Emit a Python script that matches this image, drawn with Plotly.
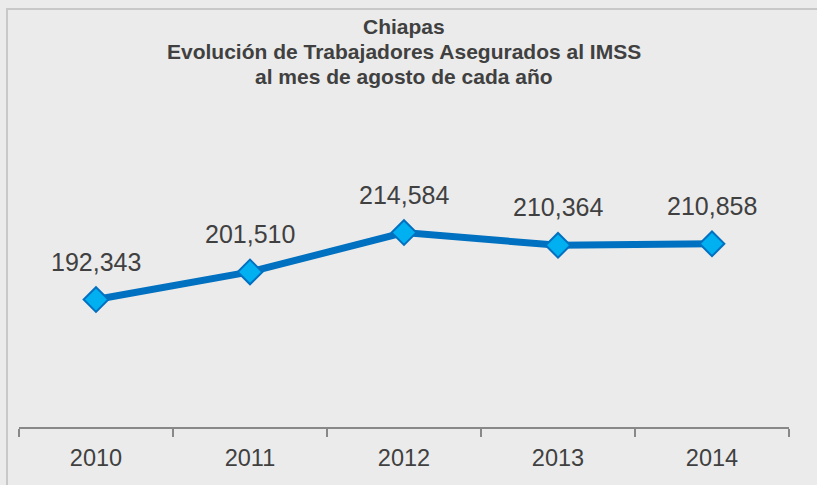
import plotly.graph_objects as go

years = ["2010", "2011", "2012", "2013", "2014"]
workers = [192343, 201510, 214584, 210364, 210858]
value_labels = ["192,343", "201,510", "214,584", "210,364", "210,858"]

title_lines = ["Chiapas", "Evolución de Trabajadores Asegurados al IMSS", "al mes de agosto de cada año"]

W, H = 817, 485
L, R, T, B = 19, 28, 126, 58
pw, ph = W - L - R, H - T - B

def px_x(p):
    return (p - L) / pw

def px_y(p):
    return (H - B - p) / ph

fig = go.Figure()
fig.add_trace(go.Scatter(
    x=years, y=workers, mode="lines+markers",
    line=dict(color="#0070C0", width=7),
    marker=dict(symbol="diamond", size=19, color="#00B0F0",
                line=dict(color="#0070C0", width=2)),
    hoverinfo="skip", showlegend=False,
))

annotations = []
for i, (v, lab) in enumerate(zip(workers, value_labels)):
    annotations.append(dict(
        x=i, y=v, xref="x", yref="y", text=lab, showarrow=False,
        yshift=38, yanchor="middle", xanchor="center",
        font=dict(family="Liberation Sans, Arial", size=25, color="#404040"),
    ))

title_centers = [26, 51, 76]
for line, cy in zip(title_lines, title_centers):
    annotations.append(dict(
        x=px_x(404), y=px_y(cy), xref="paper", yref="paper",
        text="<b>" + line + "</b>", showarrow=False,
        xanchor="center", yanchor="middle",
        font=dict(family="Liberation Sans, Arial", size=21, color="#404040"),
    ))

fig.update_layout(
    width=W, height=H,
    margin=dict(l=L, r=R, t=T, b=B, autoexpand=False),
    paper_bgcolor="#EBEBEB", plot_bgcolor="#EBEBEB",
    xaxis=dict(
        type="category", range=[-0.5, 4.5],
        showline=True, linecolor="#888888", linewidth=2,
        ticks="outside", tickson="boundaries", ticklen=8, tickwidth=2, tickcolor="#888888",
        ticklabelstandoff=9,
        showgrid=False, zeroline=False,
        tickfont=dict(family="Liberation Sans, Arial", size=23.5, color="#404040"),
    ),
    yaxis=dict(
        range=[150000, 250000], showticklabels=False, showline=False,
        showgrid=False, zeroline=False, ticks="",
    ),
    annotations=annotations,
    shapes=[dict(
        type="rect", xref="paper", yref="paper",
        x0=px_x(7), x1=px_x(830), y0=px_y(500), y1=px_y(9),
        line=dict(color="#C8C8C8", width=2), fillcolor="rgba(0,0,0,0)", layer="below",
    )],
)

fig.write_html("out.html", config={"displayModeBar": False},
               post_script="document.body.style.margin='0';")
